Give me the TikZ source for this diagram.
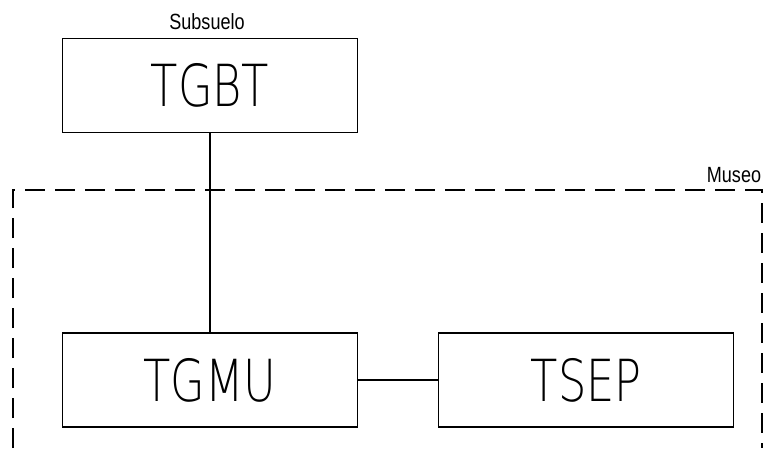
\documentclass[tikz,border=0pt]{standalone}
\usepackage{fontspec}
\setmainfont{Liberation Sans}
\newfontfamily\fino[Extension=.ttf]{DejaVuSans-ExtraLight}
\usepackage{graphicx}
\usetikzlibrary{positioning}
\tikzset{tablero/.style = {draw, line width=1.2pt, minimum width=295pt, minimum height=94pt, inner sep=0}}
\tikzset{recinto/.style = {line width=1.2pt, dash pattern=on 20pt off 10pt}}
\newcommand{\rotulo}[1]{\scalebox{0.77}[1]{\fino\fontsize{58}{60}\selectfont #1}}
\newcommand{\sector}[1]{\scalebox{0.82}[1]{\fontsize{22}{24}\selectfont #1}}

\begin{document}
\begin{tikzpicture}[x=1pt, y=1pt]
  \useasboundingbox (0, 0) rectangle (766, 448);
  % tableros
  \node [tablero] (tgbt) at (210, 362.5) {\rotulo{TGBT}};
  \node [tablero] (tgmu) at (210, 68) {\rotulo{TGMU}};
  \node [tablero, right=80pt of tgmu] (tsep) {\rotulo{TSEP}};
  % sectores
  \node (subsuelo) at (207, 426) {\sector{Subsuelo}};
  \node (museo) at (734, 273) {\sector{Museo}};
  \draw [recinto] (13, 0) |- (762, 258) -- (762, 0);
  % alimentaciones
  \draw [line width=1.2pt] (tgbt) -- (tgmu);
  \draw [line width=1.2pt] (tgmu) -- (tsep);
\end{tikzpicture}
\end{document}
